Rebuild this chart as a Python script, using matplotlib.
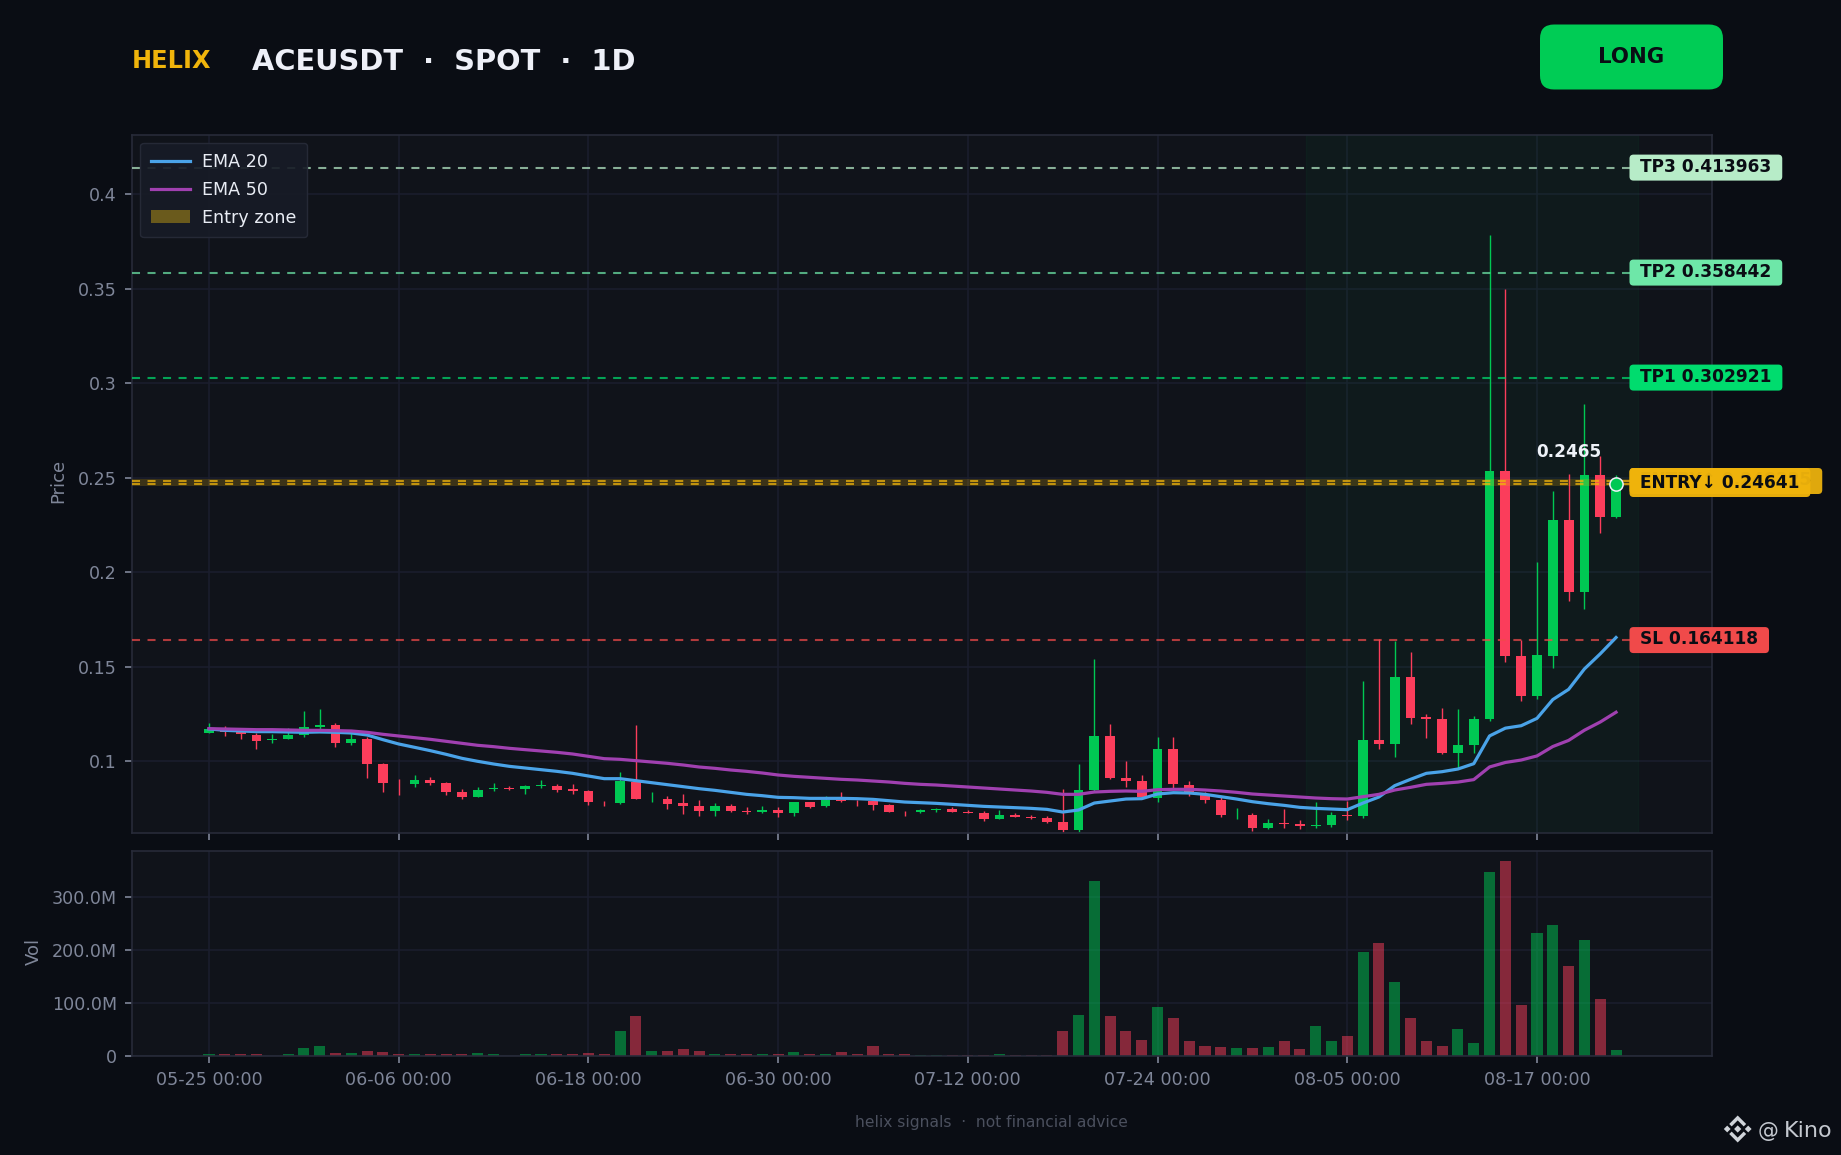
import matplotlib
matplotlib.use("Agg")
import matplotlib.pyplot as plt
from matplotlib.patches import FancyBboxPatch, Polygon
from matplotlib.transforms import IdentityTransform

W, H = 1841, 1155
BG = "#0a0d14"; AX = "#10131a"; SP = "#272b39"; GR = "#1b1e2e"
GREEN = "#00c853"; RED = "#fb3d5b"; TICK = "#7f8699"

opens = [.11499,.11623,.1157,.11393,.11146,.11182,.11393,.11817,.11922,.1097,
         .11182,.09859,.08854,.08801,.09012,.08854,.08377,.08113,.08536,.08589,
         .08536,.08695,.08695,.08536,.0843,.0785,.07795,.08907,.0801,.08007,
         .07795,.07637,.07372,.07637,.07372,.07319,.07425,.07266,.07848,.07637,
         .07954,.079,.07901,.0769,.0732,.07319,.07425,.07478,.07319,.07266,
         .06949,.0716,.07055,.07002,.0679,.06367,.08483,.1134,.09118,.08959,
         .0806,.10653,.08748,.08272,.07954,.0716,.0716,.06473,.06737,.06684,
         .06578,.06631,.0716,.07108,.11129,.10917,.14462,.12346,.1224,.10438,
         .1087,.12229,.25359,.15576,.1346,.15576,.22768,.18967,.25143,.22919]
highs = [.12028,.11869,.11623,.11481,.11446,.11764,.12663,.12769,.12028,.11481,
         .11305,.09912,.09065,.09277,.09171,.08907,.08536,.08642,.08854,.08695,
         .08748,.09012,.08801,.08801,.08483,.07901,.09436,.11922,.08377,.08166,
         .08272,.07954,.07795,.07743,.07584,.07637,.07584,.07848,.07848,.08166,
         .08377,.07954,.07954,.07743,.07372,.07478,.07531,.07584,.07425,.07372,
         .07425,.07266,.0716,.07108,.08536,.09859,.15414,.11975,.10018,.09277,
         .11287,.11287,.08959,.08377,.08113,.07531,.07266,.06949,.07478,.06896,
         .07848,.07319,.07901,.1425,.16473,.16367,.15785,.12504,.12822,.12769,
         .12423,.37842,.34991,.1644,.20543,.24301,.25208,.28901,.26158,.25143]
lows = [.11499,.1134,.11182,.10653,.1097,.11182,.11287,.11605,.10758,.10864,
        .09118,.08377,.08219,.08642,.08748,.08219,.08007,.08113,.0843,.08483,
        .08272,.08589,.08377,.08272,.0769,.07637,.07743,.08007,.07848,.07478,
        .07213,.07108,.07108,.07319,.07213,.07266,.07055,.07108,.07531,.07584,
        .07848,.07637,.07425,.07319,.07108,.07266,.07319,.07319,.07266,.06843,
        .06949,.07055,.06949,.06737,.06261,.06261,.0843,.09065,.08642,.08113,
        .07848,.08589,.08166,.07795,.07055,.06949,.06314,.0642,.06473,.0642,
        .06473,.06526,.06896,.07002,.10653,.10229,.11975,.11235,.10388,.09637,
        .10438,.12142,.15252,.132,.13308,.14928,.18492,.1806,.22077,.2288]
closes = [.11711,.11552,.11446,.11076,.11182,.11393,.11817,.11922,.1097,.11182,
          .09859,.08854,.08853,.09012,.08854,.08377,.08113,.08483,.08589,.08536,
          .08695,.08748,.08483,.0843,.07848,.07849,.08959,.08007,.08011,.07743,
          .07637,.07372,.07637,.07372,.07319,.07425,.07266,.07848,.07584,.07954,
          .07901,.07899,.0769,.07319,.07319,.07425,.07478,.07319,.07266,.06949,
          .0716,.07055,.07002,.0679,.06367,.0848,.1134,.09118,.08959,.08113,
          .10653,.08801,.08272,.07954,.0716,.07161,.06473,.06737,.06684,.06578,
          .06631,.0716,.07108,.11129,.10917,.14462,.12293,.1224,.10441,.10847,
          .12229,.25359,.15576,.1346,.1562,.22768,.18967,.25143,.22919,.2465]
ema20 = [.11711,.1164,.11605,.1157,.1157,.11552,.11534,.11552,.11534,.11499,
         .11393,.11146,.10917,.10741,.10564,.1037,.10159,.1,.09859,.09735,
         .09647,.09559,.09471,.09365,.09224,.09083,.09083,.08977,.08871,.08765,
         .0866,.08554,.08466,.0836,.08254,.08183,.08095,.08078,.08042,.08042,
         .08042,.08025,.07989,.07919,.07848,.07813,.07778,.07725,.07672,.07619,
         .07584,.07549,.07513,.0746,.07319,.07425,.07795,.07901,.08007,.08025,
         .08272,.08342,.08325,.08254,.08131,.08007,.07866,.0776,.07672,.07566,
         .07513,.07478,.07443,.07795,.08113,.08713,.09048,.09365,.09453,.09594,
         .09875,.11343,.11754,.11883,.12272,.13265,.13805,.14885,.15684,.16548]
ema50 = [.11728,.11711,.11693,.11675,.11675,.11658,.1164,.1164,.11623,.11605,
         .11534,.11429,.1134,.11252,.11164,.11058,.10952,.10847,.10776,.10688,
         .10617,.10547,.10476,.10388,.10265,.10141,.10106,.10035,.09965,.09894,
         .09806,.097,.0963,.09541,.09471,.09383,.09277,.09206,.09153,.091,
         .09048,.09012,.08959,.08907,.08836,.08783,.08748,.08695,.08642,.08589,
         .08536,.08483,.0843,.0836,.08254,.08254,.08377,.08413,.0843,.08413,
         .08501,.08519,.08519,.08483,.0843,.0836,.08272,.08219,.08166,.08113,
         .0806,.08025,.08007,.08131,.08254,.08483,.08624,.08783,.08836,.08903,
         .09033,.09702,.0994,.10069,.10285,.10782,.11106,.11646,.12078,.12596]
volumes_m = [3,3,3,3,.5,3,14.5,18,5,5,9,7,3,3,3,3,3,5,3,.5,
             3,3,3,3,5,3,46.5,75,9,9,12.5,9,3,3,3,3,3,7,3,3,
             7,3,18,3,3,1,1,1,1,1,3,1,1,1,48,77,330,75,46.5,29.5,
             92,71,27.7,18,16.4,14.5,14.5,16.4,27.7,12.6,56,27.7,37,195.6,212.6,139,71,27.7,18,50,
             24,346.5,367,95.6,231,246.5,169,218,107,10.7]

date_ticks = [0, 12, 24, 36, 48, 60, 72, 84]
date_labels = ["05-25 00:00", "06-06 00:00", "06-18 00:00", "06-30 00:00",
               "07-12 00:00", "07-24 00:00", "08-05 00:00", "08-17 00:00"]
price_ticks = [0.1, 0.15, 0.2, 0.25, 0.3, 0.35, 0.4]
price_labels = ["0.1", "0.15", "0.2", "0.25", "0.3", "0.35", "0.4"]
vol_ticks = [0, 100, 200, 300]
vol_labels = ["0", "100.0M", "200.0M", "300.0M"]
level_names = ["TP3 0.413963", "TP2 0.358442", "TP1 0.302921", "SL 0.164118"]
level_values = [0.413963, 0.358442, 0.302921, 0.164118]
level_colors = ["#b7ecc8", "#6ee7a8", "#00dc6e", "#f04a4a"]
entry_low, entry_high = 0.24641, 0.248325
zone_low, zone_high = 0.2455, 0.2495
last_price = 0.2465


def rect(l, t, r, b):
    return [l / W, 1 - b / H, (r - l) / W, (b - t) / H]


fig = plt.figure(figsize=(W / 100, H / 100), dpi=100, facecolor=BG)
plt.rcParams["font.family"] = "DejaVu Sans"
ax = fig.add_axes(rect(132, 135, 1712, 833), facecolor=AX)
axv = fig.add_axes(rect(132, 851, 1712, 1056), facecolor=AX)

xs = list(range(len(closes)))
for a in (ax, axv):
    a.set_xlim(-4.87, 95.07)
    a.set_xticks(date_ticks)
    a.grid(True, color=GR, lw=1.1, zorder=0)
    a.set_axisbelow(True)
    for s in a.spines.values():
        s.set_color(SP)
        s.set_linewidth(1.2)
    a.tick_params(colors=TICK, labelsize=12.6, length=4.8, width=1.2, pad=6)
ax.set_ylim(0.0621, 0.4312)
ax.set_yticks(price_ticks)
ax.set_yticklabels(price_labels)
ax.tick_params(axis="x", labelbottom=False)
ax.set_ylabel("Price", color=TICK, fontsize=13)
ax.yaxis.set_label_coords((67 - 132) / 1580, 0.5 + 3 / 698)
axv.set_ylim(0, 386)
axv.set_yticks(vol_ticks)
axv.set_yticklabels(vol_labels)
axv.set_xticklabels(date_labels)
axv.set_ylabel("Vol", color=TICK, fontsize=13)
axv.yaxis.set_label_coords((42.5 - 132) / 1580, 0.5 + 2.5 / 205)

ax.axvspan(69.4, 90.4, color=GREEN, alpha=0.045, zorder=1)

cols = [GREEN if c >= o else RED for o, c in zip(opens, closes)]
ax.vlines(xs, lows, highs, colors=cols, lw=1.0, zorder=2)
ax.bar(xs, [abs(c - o) for o, c in zip(opens, closes)],
       bottom=[min(o, c) for o, c in zip(opens, closes)],
       width=0.62, color=cols, linewidth=0, zorder=3)
axv.bar(xs, volumes_m, width=0.7, color=cols, alpha=0.5, linewidth=0, zorder=2)

dash = (0, (3.85, 3.6))
for v, c in zip(level_values, level_colors):
    ax.axhline(v, color=c, lw=1.5, ls=dash, alpha=0.72, zorder=4)
ax.axhspan(zone_low, zone_high, color="#f0b40b", alpha=0.2, linewidth=0, zorder=4,
           label="Entry zone")
for v in (entry_low, entry_high):
    ax.axhline(v, color="#f0b40b", lw=1.5, ls=dash, alpha=0.75, zorder=4)

ax.plot(xs, ema20, color="#4aa3e8", lw=2.3, zorder=5, label="EMA 20")
ax.plot(xs, ema50, color="#a040b0", lw=2.3, zorder=5, label="EMA 50")
ax.plot(xs[-1], closes[-1], "o", ms=9.5, mfc=GREEN, mec="#eef2f8", mew=1.1, zorder=6, clip_on=False)

handles, labels = ax.get_legend_handles_labels()
order = [labels.index(n) for n in ("EMA 20", "EMA 50", "Entry zone")]
zone_handle = plt.Rectangle((0, 0), 1, 1, facecolor="#6a5a1c", edgecolor="none")
leg_handles = [handles[order[0]], handles[order[1]], zone_handle]
leg = ax.legend(leg_handles, ["EMA 20", "EMA 50", "Entry zone"],
                loc="upper left", bbox_to_anchor=(8 / 1580, 1 - 8 / 698), borderaxespad=0,
                fontsize=12.6, facecolor="#171b26", edgecolor=SP, framealpha=0.92,
                labelcolor="#e8ecf4", handlelength=2.23, handletextpad=0.73,
                labelspacing=0.55, borderpad=0.6)
leg.set_zorder(10)

fig.canvas.draw()
rend = fig.canvas.get_renderer()


def px_text(x, y, s, **kw):
    return fig.text(x / W, 1 - y / H, s, **kw)


def label(name, color, cy, height, text_y=None, alpha=1.0, z=20):
    t = px_text(1640, text_y if text_y is not None else cy - 1, name, fontsize=12.22, fontweight="bold",
                color="#0a0d14", va="center", ha="left", zorder=z + 1)
    w = t.get_window_extent(rend).width + 21.5
    box = FancyBboxPatch((1629.5, H - cy - height / 2), w, height,
                         boxstyle="round,pad=0,rounding_size=4", transform=IdentityTransform(),
                         facecolor=color, edgecolor="none", alpha=alpha, zorder=z)
    fig.add_artist(box)
    return t


def y_px(v):
    return H - ax.transData.transform((0, v))[1]


for n, v, c in zip(level_names, level_values, level_colors):
    label(n, c, y_px(v), 26)
label("ENTRY↑ 0.248325", "#dfa80d", 481, 26, z=20)
label("ENTRY↓ 0.24641", "#f0b40b", 482.5, 29, text_y=482.5, alpha=0.96, z=22)

ax.annotate("0.2465", (xs[-1], last_price), xytext=(1569, H - 452), textcoords=IdentityTransform(),
            color="#eef2f8", fontsize=12.2, fontweight="bold", ha="center", va="center",
            annotation_clip=False, zorder=7)

px_text(132, 60.5, "HELIX", color="#f0b40b", fontsize=17.3, fontweight="bold", va="center")
px_text(252, 62, "ACEUSDT  ·  SPOT  ·  1D", color="#eef0f8", fontsize=20.8, fontweight="bold", va="center")
fig.add_artist(FancyBboxPatch((1540, H - 89.5), 183, 65, boxstyle="round,pad=0,rounding_size=14",
                              transform=IdentityTransform(), facecolor="#00cc55", edgecolor="none", zorder=20))
px_text(1631.5, 57, "LONG", color="#0a0d14", fontsize=15.3, fontweight="bold", ha="center", va="center", zorder=21)
px_text(991, 1122, "helix signals  ·  not financial advice", color="#4b505e", fontsize=11.2,
        ha="center", va="center")

# watermark
LOGO = "#d0d4da"
cx, cy = 1737.7, H - 1129
for dx, dy, r in ((0, 0, 3.6), (-10.5, 0, 3.4), (10.5, 0, 3.4)):
    fig.add_artist(Polygon([(cx + dx - r, cy + dy), (cx + dx, cy + dy + r), (cx + dx + r, cy + dy), (cx + dx, cy + dy - r)],
                           transform=IdentityTransform(), facecolor=LOGO, edgecolor="none"))
for sgn in (1, -1):
    fig.add_artist(Polygon([(cx, cy + sgn * 13.5), (cx + 8.5, cy + sgn * 5), (cx + 6, cy + sgn * 2.6), (cx, cy + sgn * 8.6),
                            (cx - 6, cy + sgn * 2.6), (cx - 8.5, cy + sgn * 5)],
                           transform=IdentityTransform(), facecolor=LOGO, edgecolor="none"))
fig.text(1757.5 / W, 1 - 1137 / H, "@", color="#c4c8cf", fontsize=15, va="baseline")
fig.text(1784 / W, 1 - 1137 / H, "Kino", color="#c4c8cf", fontsize=16, va="baseline")

fig.savefig("out.png", dpi=100, facecolor=BG)
